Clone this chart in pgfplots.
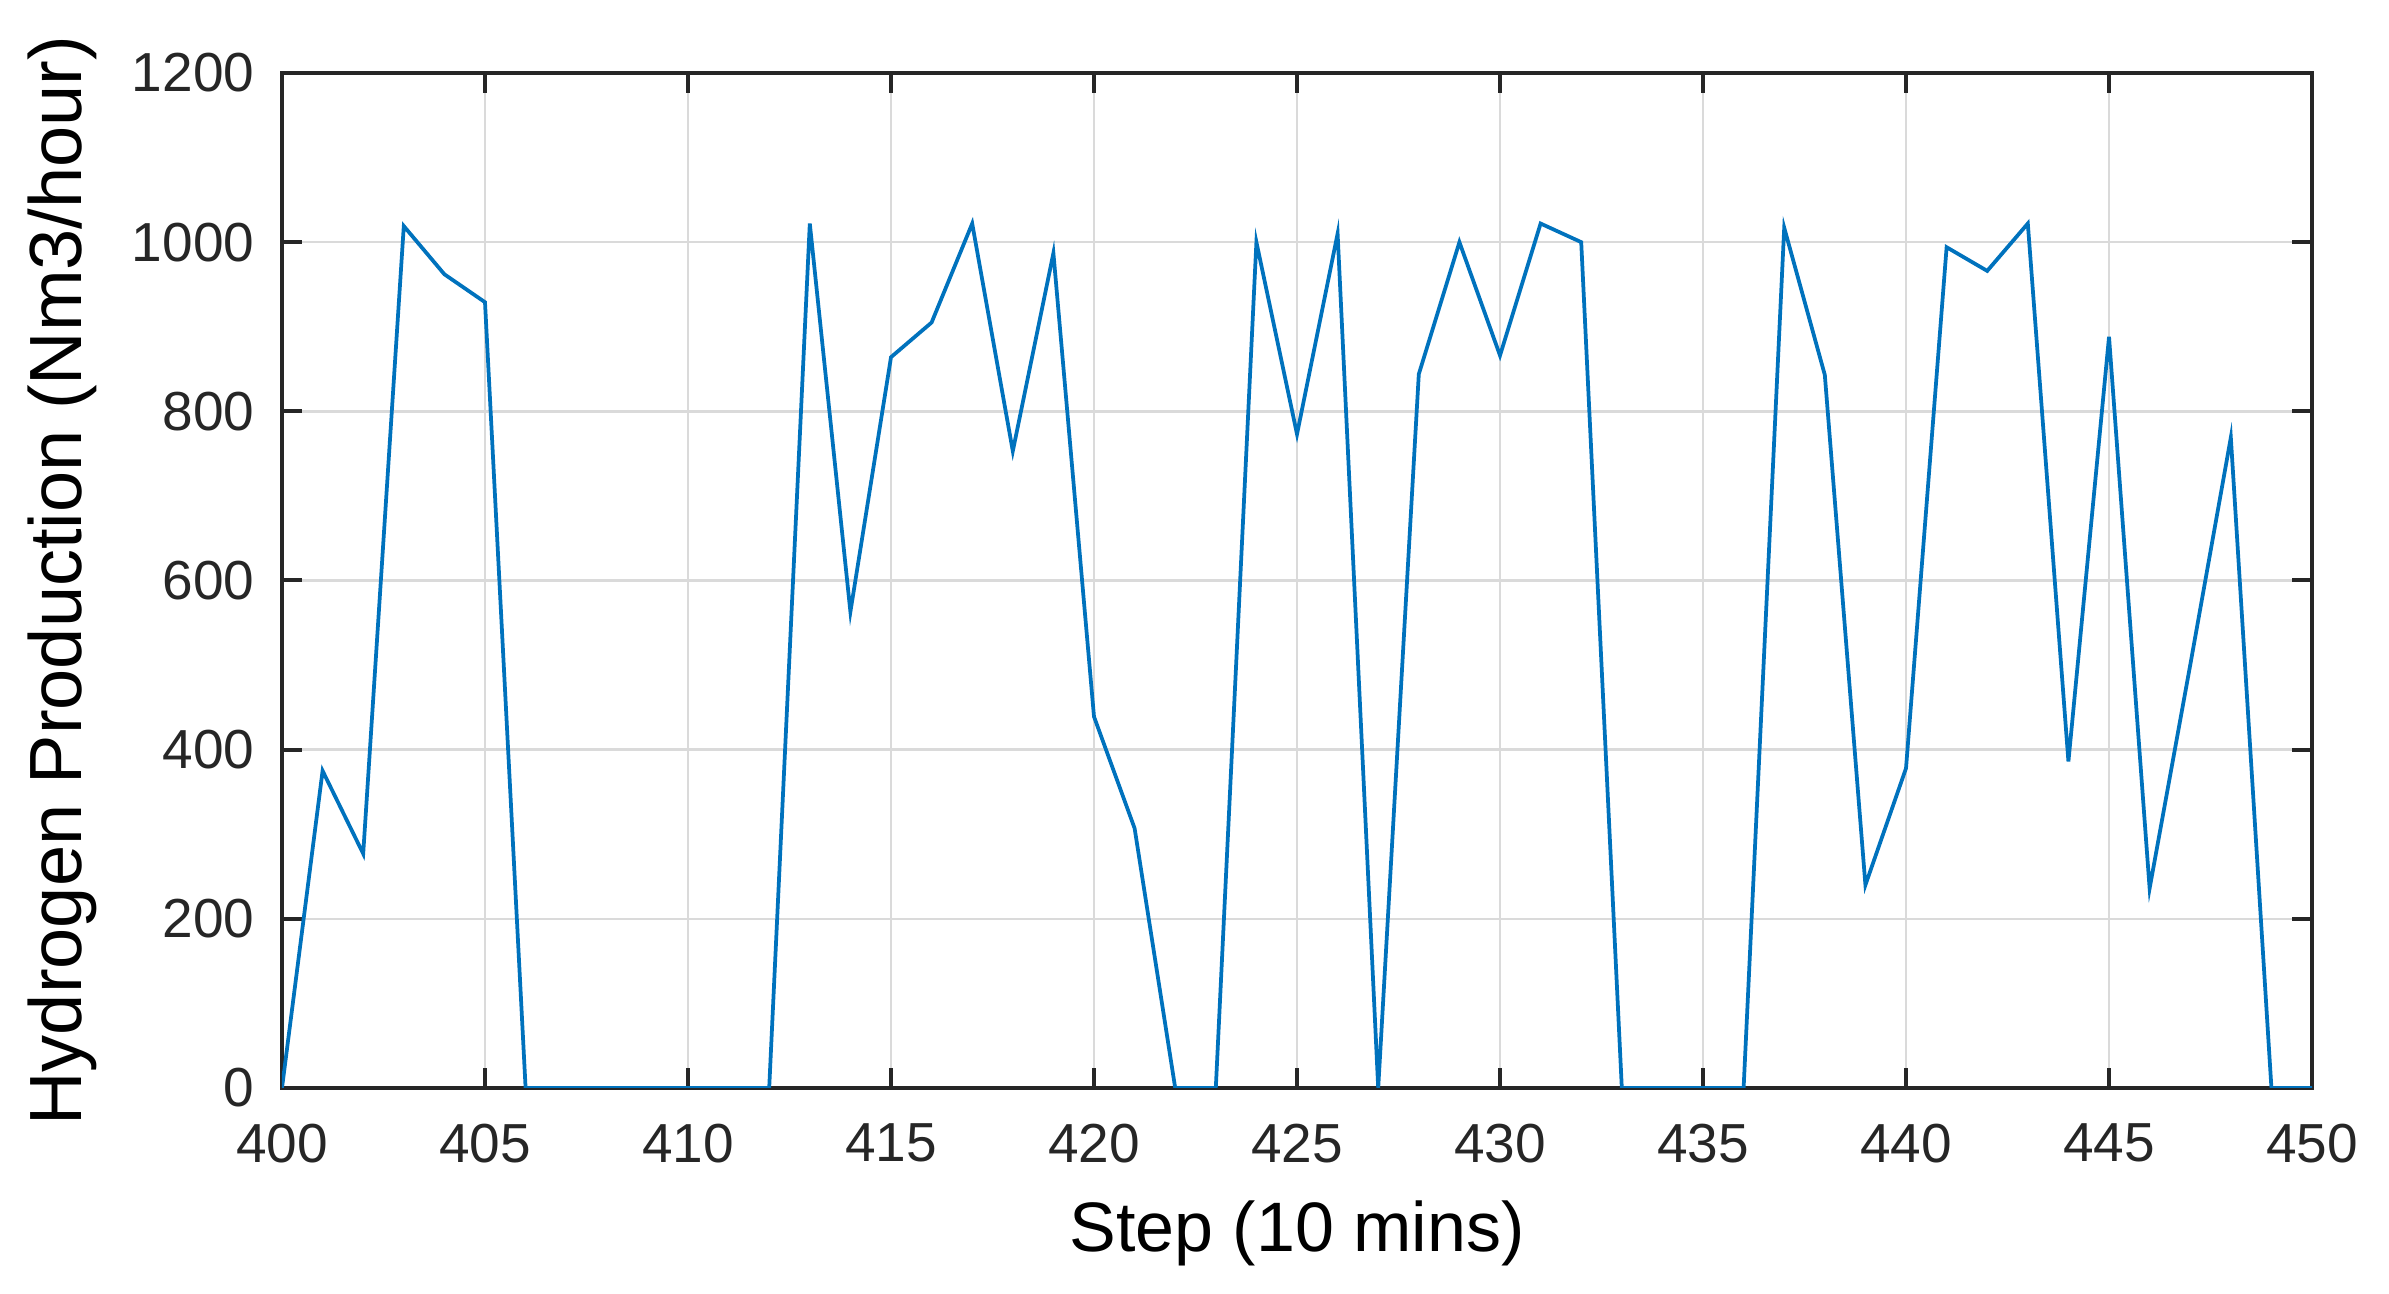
\documentclass[border=0pt]{standalone}
\usepackage{fontspec}
\setmainfont{Liberation Sans}
\usepackage{pgfplots}
\pgfplotsset{compat=1.18}
\definecolor{mblue}{RGB}{0,114,189}
\definecolor{axgray}{RGB}{38,38,38}
\definecolor{gridgray}{RGB}{218,218,218}
\begin{document}
\begin{tikzpicture}
\path[use as bounding box] (-56.4pt,-41.2pt) rectangle (421.4pt,217.6pt);
\begin{axis}[
  at={(0pt,0pt)}, anchor=south west,
  scale only axis,
  width=406pt, height=203pt,
  xmin=400, xmax=450, ymin=0, ymax=1200,
  xtick={400,405,...,450},
  ytick={0,200,...,1200},
  grid=major,
  major grid style={line width=0.5pt, draw=gridgray},
  axis line style={line width=0.8pt, draw=axgray},
  tick style={line width=0.8pt, draw=axgray},
  major tick length=4pt,
  tick align=inside,
  xtick pos=both, ytick pos=both,
  ticklabel style={font=\fontsize{11}{13}\selectfont, text=axgray},
  xticklabel style={yshift=-3.6pt},
  yticklabel style={xshift=-2pt},
  /pgf/number format/assume math mode=true,
  /pgf/number format/1000 sep={},
  scaled ticks=false,
  xlabel={Step (10 mins)},
  ylabel={Hydrogen Production (Nm3/hour)},
  every axis x label/.style={at={(axis description cs:0.5,-0.143)}, anchor=center, font=\fontsize{14}{16}\selectfont, text=black},
  every axis y label/.style={at={(axis description cs:-0.108,0.5)}, rotate=90, anchor=center, font=\fontsize{14.8}{16}\selectfont, text=black},
]
\addplot[mblue, line width=0.75pt, line join=miter] coordinates {
(400,0) (401,375) (402,277) (403,1019) (404,962) (405,929)
(406,0) (407,0) (408,0) (409,0) (410,0) (411,0) (412,0)
(413,1022) (414,563) (415,864) (416,905) (417,1022) (418,753) (419,987)
(420,439) (421,307) (422,0) (423,0) (424,1000) (425,773) (426,1010)
(427,0) (428,844) (429,1000) (430,866) (431,1022) (432,1000)
(433,0) (434,0) (435,0) (436,0)
(437,1017) (438,843) (439,240) (440,378) (441,994) (442,966) (443,1022)
(444,386) (445,888) (446,236) (447,500) (448,769) (449,0) (450,0)
};
\end{axis}
\end{tikzpicture}
\end{document}
